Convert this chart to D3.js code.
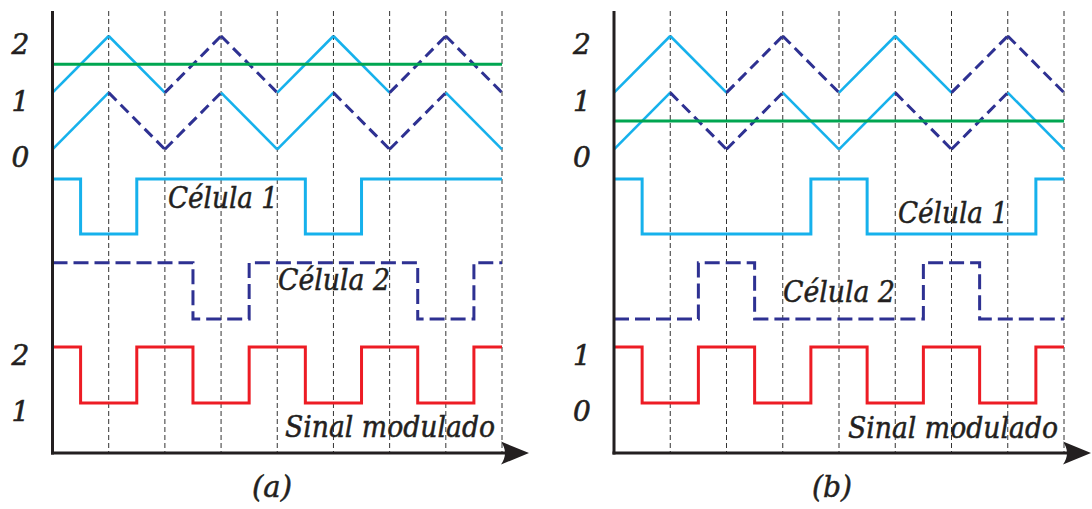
<!DOCTYPE html>
<html>
<head>
<meta charset="utf-8">
<script src="https://cdn.jsdelivr.net/npm/d3@7"></script>
<style>
  html, body { margin: 0; padding: 0; background: #fff; }
  svg { display: block; }
</style>
</head>
<body>
<svg id="chart" width="1092" height="509"></svg>
<script>
// Time axis: two carrier periods span 8 grid units
const gridTimes = [1, 2, 3, 4, 5, 6, 7, 8];
const carrierTimes = [0, 1, 2, 3, 4, 5, 6, 7, 8];

// Triangular carriers (level-shifted)
const upperCarrier = [1, 2, 1, 2, 1, 2, 1, 2, 1];
const lowerCarrier = [0, 1, 0, 1, 0, 1, 0, 1, 0];
// Segment styles: "s" = cell 1 (solid), "d" = cell 2 (dashed)
const upperStyle = ["s", "s", "d", "d", "s", "s", "d", "d"];
const lowerStyle = ["s", "d", "d", "s", "s", "d", "d", "s"];

// Modulating references
const referenceA = 1.5;
const referenceB = 0.5;

// Switching states [time, level]
const cell1A = [[0, 1], [0.5, 0], [1.5, 1], [4.5, 0], [5.5, 1], [8, 1]];
const cell2A = [[0, 1], [2.5, 0], [3.5, 1], [6.5, 0], [7.5, 1], [8, 1]];
const outputA = [[0, 2], [0.5, 1], [1.5, 2], [2.5, 1], [3.5, 2], [4.5, 1], [5.5, 2], [6.5, 1], [7.5, 2], [8, 2]];

const cell1B = [[0, 1], [0.5, 0], [3.5, 1], [4.5, 0], [7.5, 1], [8, 1]];
const cell2B = [[0, 0], [1.5, 1], [2.5, 0], [5.5, 1], [6.5, 0], [8, 0]];
const outputB = [[0, 1], [0.5, 0], [1.5, 1], [2.5, 0], [3.5, 1], [4.5, 0], [5.5, 1], [6.5, 0], [7.5, 1], [8, 1]];

// Tick labels
const carrierTicks = [0, 1, 2];
const outputTicksA = [1, 2];
const outputTicksB = [0, 1];

const panels = [
  { x0: 52.5, x1: 502, ref: referenceA, cell1: cell1A, cell2: cell2A, out: outputA,
    outDomain: [1, 2], outTicks: outputTicksA, caption: "(a)",
    cell1Label: { x: 168, y: 208, w: 110 }, cell2Label: { x: 278, y: 290, w: 112 },
    sigLabel: { x: 285, y: 437, w: 210 }, captionX: 252 },
  { x0: 614, x1: 1064, ref: referenceB, cell1: cell1B, cell2: cell2B, out: outputB,
    outDomain: [0, 1], outTicks: outputTicksB, caption: "(b)",
    cell1Label: { x: 898, y: 223, w: 110 }, cell2Label: { x: 783, y: 302, w: 112 },
    sigLabel: { x: 848, y: 438, w: 210 }, captionX: 812 }
];

const colors = { cell1: "#16b1ec", cell2: "#2e3192", ref: "#00a651", out: "#ed1c24", axis: "#231f20", grid: "#333" };
const fontFamily = "'DejaVu Serif', 'Liberation Serif', serif";

const svg = d3.select("#chart");

const axisTop = 11, axisBottom = 453;

panels.forEach(p => {
  const g = svg.append("g");
  const x = d3.scaleLinear().domain([0, 8]).range([p.x0, p.x1]);
  const yCar = d3.scaleLinear().domain([0, 2]).range([149.3, 36]);
  const yC1 = d3.scaleLinear().domain([0, 1]).range([234, 179]);
  const yC2 = d3.scaleLinear().domain([0, 1]).range([319, 262.7]);
  const yOut = d3.scaleLinear().domain(p.outDomain).range([403, 347]);

  // dashed time grid
  g.selectAll("line.grid").data(gridTimes).join("line")
    .attr("x1", d => x(d)).attr("x2", d => x(d))
    .attr("y1", axisTop).attr("y2", axisBottom)
    .attr("stroke", colors.grid).attr("stroke-width", 1)
    .attr("stroke-dasharray", "5,3");

  // carriers, drawn segment by segment
  const drawCarrier = (vals, styles) => {
    const segs = styles.map((s, i) => ({ s, a: [carrierTimes[i], vals[i]], b: [carrierTimes[i + 1], vals[i + 1]] }));
    g.append("g").selectAll("line").data(segs).join("line")
      .attr("x1", d => x(d.a[0])).attr("y1", d => yCar(d.a[1]))
      .attr("x2", d => x(d.b[0])).attr("y2", d => yCar(d.b[1]))
      .attr("stroke", d => d.s === "s" ? colors.cell1 : colors.cell2)
      .attr("stroke-width", d => d.s === "s" ? 2.6 : 3)
      .attr("stroke-dasharray", d => d.s === "s" ? null : "11,6")
      .attr("stroke-linecap", "butt");
  };
  drawCarrier(upperCarrier, upperStyle);
  drawCarrier(lowerCarrier, lowerStyle);

  // reference
  g.append("line")
    .attr("x1", x(0)).attr("x2", x(8))
    .attr("y1", yCar(p.ref)).attr("y2", yCar(p.ref))
    .attr("stroke", colors.ref).attr("stroke-width", 3);

  const step = (yScale) => d3.line().x(d => x(d[0])).y(d => yScale(d[1])).curve(d3.curveStepAfter);

  g.append("path").datum(p.cell1).attr("d", step(yC1))
    .attr("fill", "none").attr("stroke", colors.cell1).attr("stroke-width", 3);
  g.append("path").datum(p.cell2).attr("d", step(yC2))
    .attr("fill", "none").attr("stroke", colors.cell2).attr("stroke-width", 3)
    .attr("stroke-dasharray", "15,6");
  g.append("path").datum(p.out).attr("d", step(yOut))
    .attr("fill", "none").attr("stroke", colors.out).attr("stroke-width", 3);

  // axes
  g.append("line").attr("x1", p.x0).attr("x2", p.x0).attr("y1", axisTop).attr("y2", axisBottom + 1.5)
    .attr("stroke", colors.axis).attr("stroke-width", 3);
  g.append("line").attr("x1", p.x0 - 1.5).attr("x2", p.x1 + 8).attr("y1", axisBottom).attr("y2", axisBottom)
    .attr("stroke", colors.axis).attr("stroke-width", 3);
  const tip = p.x1 + 27, base = p.x1 - 1;
  g.append("path")
    .attr("d", `M${tip},${axisBottom} L${base},${axisBottom - 11.5} Q${base + 8},${axisBottom} ${base},${axisBottom + 11.5} Z`)
    .attr("fill", colors.axis);

  // tick labels
  const lx = p.x0 - 32;
  const tickText = sel => sel
    .attr("x", lx).attr("text-anchor", "middle")
    .attr("font-family", fontFamily).attr("font-style", "italic")
    .attr("font-size", 28).attr("fill", colors.axis)
    .attr("stroke", colors.axis).attr("stroke-width", 0.6).text(d => d);
  g.selectAll("text.car").data(carrierTicks).join("text")
    .attr("y", d => yCar(d) + 18).call(tickText);
  g.selectAll("text.out").data(p.outTicks).join("text")
    .attr("y", d => yOut(d) + 18).call(tickText);

  // labels
  const label = (t, o, size) => g.append("text").attr("x", o.x).attr("y", o.y)
    .attr("font-family", fontFamily).attr("font-style", "italic").attr("fill", colors.axis)
    .attr("stroke", colors.axis).attr("stroke-width", 0.5)
    .attr("font-size", size).attr("textLength", o.w).attr("lengthAdjust", "spacingAndGlyphs").text(t);
  label("Célula 1", p.cell1Label, 29);
  label("Célula 2", p.cell2Label, 29);
  label("Sinal modulado", p.sigLabel, 29);
  label(p.caption, { x: p.captionX, y: 497, w: 40 }, 29);
});
</script>
</body>
</html>
